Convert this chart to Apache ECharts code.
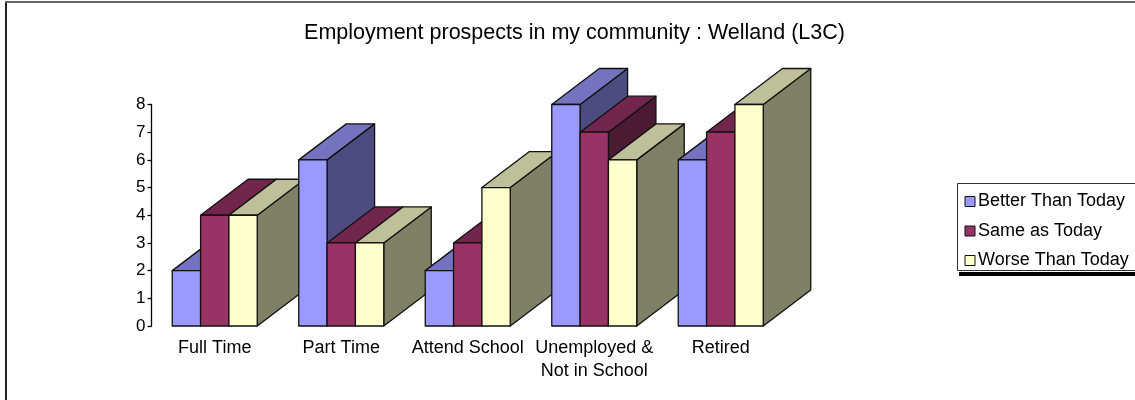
<!DOCTYPE html>
<html><head><meta charset="utf-8">
<style>html,body{margin:0;padding:0;background:#fff;overflow:hidden}#c{width:1135px;height:400px}</style>
<script src="https://cdn.jsdelivr.net/npm/echarts@6/dist/echarts.min.js"></script>
</head><body><div id="c"></div>
<script>
const categories = ['Full Time','Part Time','Attend School','Unemployed &\nNot in School','Retired'];
const seriesNames = ['Better Than Today','Same as Today','Worse Than Today'];
const betterThanToday = [2,6,2,8,6];
const sameAsToday = [4,3,3,7,7];
const worseThanToday = [4,3,5,6,8];
const yTicks = [0,8,1];
const faces = [
  {front:'#9999FF', top:'#7373BF', side:'#4C4C80'},
  {front:'#993366', top:'#73264D', side:'#4D1A33'},
  {front:'#FFFFCC', top:'#BFBF99', side:'#808066'}
];
const FONT = '"Liberation Sans", Arial, sans-serif';
const DX = 47.5, DY = 36, BAR_FRAC = 85/126.5/3;
function renderBar(params, api){
  const cat = api.value(0), val = api.value(1);
  const base = api.coord([cat,0]), head = api.coord([cat,val]);
  const band = api.size([1,0])[0];
  const w = band*BAR_FRAC;
  const x0 = base[0] - w*1.5 + params.seriesIndex*w, x1 = x0 + w;
  const yb = base[1], yt = head[1];
  const c = faces[params.seriesIndex];
  const z2 = cat*10 + params.seriesIndex;
  const line = {stroke:'#111', lineWidth:1.3, lineJoin:'round'};
  const poly = (pts, fill)=>({type:'polygon', z2, shape:{points:pts}, style:Object.assign({fill},line)});
  return {type:'group', children:[
    poly([[x1,yb],[x1+DX,yb-DY],[x1+DX,yt-DY],[x1,yt]], c.side),
    poly([[x0,yt],[x0+DX,yt-DY],[x1+DX,yt-DY],[x1,yt]], c.top),
    poly([[x0,yb],[x1,yb],[x1,yt],[x0,yt]], c.front)
  ]};
}
const values = [betterThanToday, sameAsToday, worseThanToday];
const chart = echarts.init(document.getElementById('c'), null, {renderer:'canvas'});
chart.setOption({
  animation:false,
  backgroundColor:'#fff',
  textStyle:{fontFamily:FONT},
  title:{text:'Employment prospects in my community : Welland (L3C)', left:569.5, top:17, textAlign:'center',
    textStyle:{fontFamily:FONT,fontSize:21.5,fontWeight:'normal',color:'#000'}},
  legend:{orient:'vertical', left:957.5, top:183.5, padding:[8,30,0,7], itemWidth:10, itemHeight:10, itemGap:9.5,
    backgroundColor:'#fff', borderColor:'#333', borderWidth:1,
    icon:'rect', selectedMode:false, data:seriesNames,
    itemStyle:{borderColor:'#111',borderWidth:1},
    textStyle:{fontFamily:FONT,fontSize:18,color:'#000',lineHeight:20,padding:[0,0,0,-2]}},
  grid:{left:151.5, right:351, top:104.5, bottom:74, containLabel:false},
  xAxis:{type:'category', data:categories, axisLine:{show:false}, axisTick:{show:false},
    axisLabel:{color:'#000',fontFamily:FONT,fontSize:18,margin:11,lineHeight:23,interval:0}},
  yAxis:{type:'value', min:yTicks[0], max:yTicks[1], interval:yTicks[2], splitLine:{show:false},
    axisLine:{show:true,lineStyle:{color:'#000',width:1.3}},
    axisTick:{show:true,length:4,lineStyle:{color:'#000',width:1.3}},
    axisLabel:{color:'#000',fontFamily:FONT,fontSize:17,margin:6,padding:[4,0,0,0]}},
  graphic:[
    {type:'rect',silent:true,shape:{x:5,y:1,width:2,height:399},style:{fill:'#222'}},
    {type:'rect',silent:true,shape:{x:5,y:1,width:1130,height:2},style:{fill:'#666'}},
    {type:'rect',silent:true,shape:{x:959,y:272,width:176,height:4},style:{fill:'#000'}}
  ],
  series:seriesNames.map((n,i)=>({
    type:'custom', name:n, coordinateSystem:'cartesian2d', clip:false,
    itemStyle:{color:faces[i].front},
    encode:{x:0,y:1}, renderItem:renderBar,
    data:values[i].map((v,k)=>[k,v])
  }))
});
</script></body></html>
